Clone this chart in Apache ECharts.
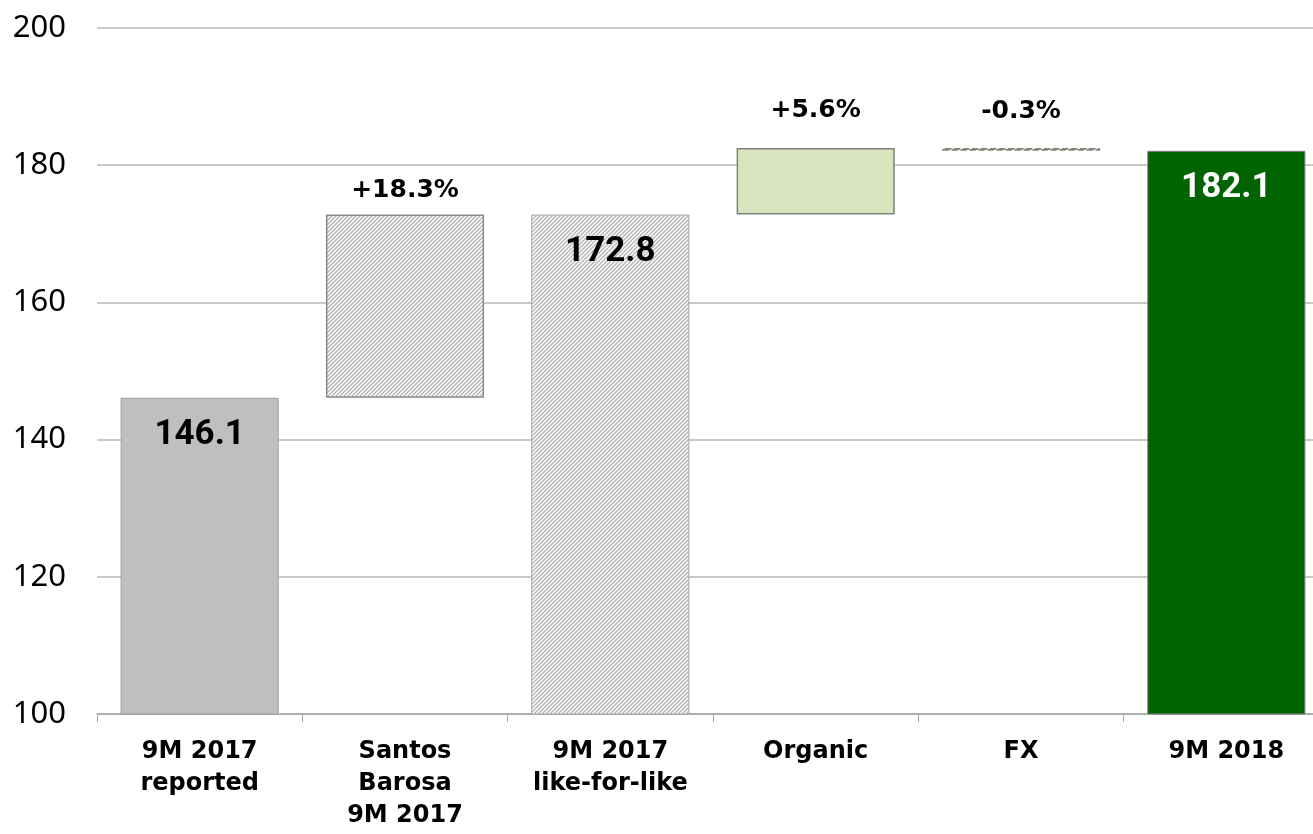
<!DOCTYPE html>
<html>
<head>
<meta charset="utf-8">
<title>Sales bridge 9M 2017 – 9M 2018</title>
<script src="https://cdn.jsdelivr.net/npm/echarts@6/dist/echarts.min.js"></script>
<style>
  html, body { margin: 0; padding: 0; background: #ffffff; }
  #chart { width: 1313px; height: 834px; }
</style>
</head>
<body>
<div id="chart"></div>
<script>
// Bridge steps
const categories = ['9M 2017\nreported', 'Santos\nBarosa\n9M 2017', '9M 2017\nlike-for-like', 'Organic', 'FX', '9M 2018'];
// Invisible offset under each floating step
const barBase = [0, 146.1, 0, 172.8, 182.1, 0];
// Visible height of each step
const barSize = [146.1, 26.7, 172.8, 9.7, 0.4, 182.1];
// Change labels shown above the floating steps
const changeLabels = ['', '+18.3%', '', '+5.6%', '-0.3%', ''];
// Totals that carry a value label inside the bar
const totalIndexes = [0, 2, 5];
// Y axis ticks
const yMin = 100, yMax = 200, yStep = 20;

// Diagonal hatch fill
function hatch() {
  const n = 4;
  const c = document.createElement('canvas');
  c.width = n; c.height = n;
  const g = c.getContext('2d');
  g.fillStyle = '#ffffff';
  g.fillRect(0, 0, n, n);
  g.strokeStyle = '#b4b4b4';
  g.lineWidth = 1.3;
  g.beginPath();
  g.moveTo(-1, n + 1); g.lineTo(n + 1, -1);
  g.moveTo(-1, 1); g.lineTo(1, -1);
  g.moveTo(n - 1, n + 1); g.lineTo(n + 1, n - 1);
  g.stroke();
  return { image: c, repeat: 'repeat' };
}
const hatchFill = hatch();

const styles = [
  { color: '#bfbfbf', borderColor: '#a0a0a0', borderWidth: 1 },
  { color: hatchFill, borderColor: '#8c8c8c', borderWidth: 1.5 },
  { color: hatchFill, borderColor: '#a6a6a6', borderWidth: 1 },
  { color: '#d7e4bd', borderColor: '#808080', borderWidth: 1.5 },
  { color: '#9bbb59', borderColor: '#808080', borderWidth: 1.5, borderType: 'dashed' },
  { color: '#006400', borderColor: '#808080', borderWidth: 1 }
];
const changeDist = [0, 12, 0, 25, 24, 0];

const visibleData = barSize.map((v, i) => {
  const item = { value: v, itemStyle: styles[i] };
  if (totalIndexes.includes(i)) {
    item.label = {
      show: true,
      position: 'insideTop',
      distance: 20,
      formatter: () => v.toFixed(1),
      fontFamily: 'Roboto',
      fontWeight: 'bold',
      fontSize: 35,
      color: i === 5 ? '#ffffff' : '#000000'
    };
  } else if (changeLabels[i]) {
    item.label = {
      show: true,
      position: 'top',
      distance: changeDist[i],
      formatter: () => changeLabels[i],
      fontFamily: 'DejaVu Sans',
      fontWeight: 'bold',
      fontSize: 25,
      color: '#000000'
    };
  }
  return item;
});

const chart = echarts.init(document.getElementById('chart'), null, { renderer: 'canvas' });
chart.setOption({
  animation: false,
  backgroundColor: '#ffffff',
  // plot area runs a little past the right edge of the canvas
  grid: { left: 97, width: 1232, top: 28, bottom: 120, containLabel: false, outerBoundsMode: 'none' },
  xAxis: {
    type: 'category',
    data: categories,
    axisLine: { lineStyle: { color: '#a6a6a6', width: 1.5 } },
    axisTick: { show: true, length: 8, lineStyle: { color: '#a6a6a6', width: 1 } },
    axisLabel: {
      interval: 0,
      margin: 22,
      fontFamily: 'DejaVu Sans',
      fontWeight: 'bold',
      fontSize: 24,
      lineHeight: 32,
      color: '#000000'
    }
  },
  yAxis: {
    type: 'value',
    min: yMin,
    max: yMax,
    interval: yStep,
    axisLine: { show: false },
    axisTick: { show: false },
    splitLine: { lineStyle: { color: '#c8c8c8', width: 2 } },
    axisLabel: {
      margin: 31,
      fontFamily: 'Noto Sans',
      fontSize: 31,
      color: '#000000'
    }
  },
  series: [
    {
      type: 'bar',
      stack: 'bridge',
      data: barBase,
      barWidth: '77%',
      itemStyle: { color: 'rgba(0,0,0,0)', borderWidth: 0 },
      emphasis: { disabled: true },
      silent: true
    },
    {
      type: 'bar',
      stack: 'bridge',
      data: visibleData,
      barWidth: '77%',
      emphasis: { disabled: true }
    }
  ]
});
</script>
</body>
</html>
